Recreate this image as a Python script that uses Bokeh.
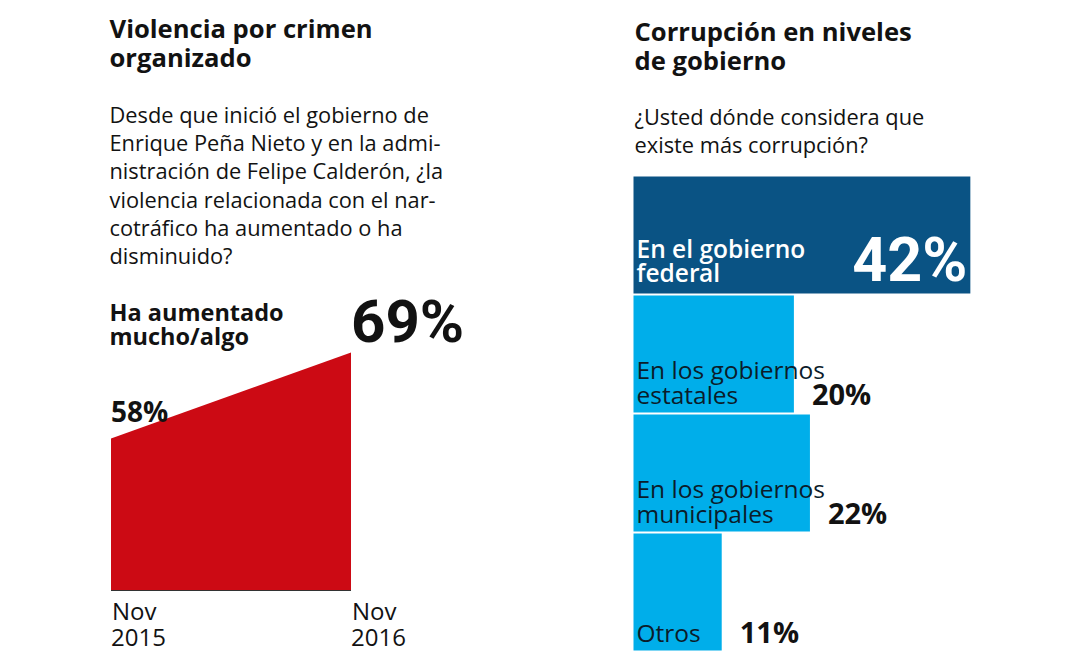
from bokeh.plotting import figure
from bokeh.models import Range1d, Label, ColumnDataSource
from bokeh.layouts import row
from bokeh.embed import file_html
from bokeh.resources import INLINE
from bokeh.core.properties import value

# ---------------- data ----------------
periods = [0, 1]
period_month = ["Nov", "Nov"]
period_year = ["2015", "2016"]
violence_pct = [58, 69]
violence_labels = ["58%", "69%"]
violence_axis_min = 38.56

corr_categories = ["En el gobierno\nfederal", "En los gobiernos\nestatales",
                   "En los gobiernos\nmunicipales", "Otros"]
corr_pct = [42, 20, 22, 11]
corr_labels = ["42%", "20%", "22%", "11%"]

# ---------------- style ----------------
FONT = "Open Sans"
SEMI = "Open Sans SemiBold, Open Sans"
BIG = "Roboto"
TXT = "#121212"
RED = "#cc0a14"
DARK_BLUE = "#0a5384"
LIGHT_BLUE = "#00aeea"
H = 662
W1, W2 = 540, 520
OX, OY = 1, 1          # page position of the layout
BL = 0.37              # baseline correction (em)


def base_fig(w, xr, yr):
    p = figure(width=w, height=H, x_range=xr, y_range=yr,
               output_backend="svg", toolbar_location=None,
               x_axis_location=None, y_axis_location=None,
               min_border=0, min_border_left=0, min_border_right=0,
               min_border_top=0, min_border_bottom=0)
    p.grid.visible = False
    p.outline_line_color = None
    p.background_fill_color = "white"
    p.border_fill_color = "white"
    return p


def lab(p, x, y, text, size, bold=False, color=TXT, font=FONT):
    p.add_layout(Label(x=x, y=y + BL * size, x_units="screen", y_units="screen",
                       text=text, text_font=font, text_font_size=f"{size}px",
                       text_font_style="bold" if bold else "normal",
                       text_color=color, text_baseline="alphabetic",
                       text_align="left"))


def sy(page_y):
    return (H + OY) - page_y


# ---------------- left panel ----------------
px_per_unit = 240.0
px_per_pct = 86.0 / 11.0
x0_px = 111.5 - OX
bottom_val = 58 - (H - (439 - OY)) / px_per_pct
p1 = base_fig(W1,
              Range1d(-x0_px / px_per_unit, (W1 - x0_px) / px_per_unit),
              Range1d(bottom_val, bottom_val + H / px_per_pct))

src1 = ColumnDataSource(dict(x=periods, y=violence_pct, lab=violence_labels,
                             base=[violence_axis_min] * len(periods),
                             month=period_month, year=period_year))
p1.varea(x="x", y1="base", y2="y", source=src1, fill_color=RED)
p1.line(x="x", y="base", source=src1, line_color="#333333", line_width=1.2)

# value labels
p1.text(x=[periods[0]], y=[violence_pct[0]], text=[violence_labels[0]],
        text_font=value(FONT), text_font_size="28px", text_font_style="bold",
        text_color=TXT, text_baseline="alphabetic", x_offset=0,
        y_offset=-17 - BL * 28)
p1.text(x=[periods[1]], y=[violence_pct[1]], text=[violence_labels[1]],
        text_font=value(BIG), text_font_size="60px", text_font_style="bold",
        text_color=TXT, text_baseline="alphabetic", x_offset=0,
        y_offset=-9 - BL * 60)

# period labels
p1.text(x="x", y="base", text="month", source=src1, text_font=value(FONT),
        text_font_size="24px", text_color=TXT, text_baseline="alphabetic",
        x_offset=1, y_offset=29 - BL * 24)
p1.text(x="x", y="base", text="year", source=src1, text_font=value(FONT),
        text_font_size="24px", text_color=TXT, text_baseline="alphabetic",
        x_offset=0, y_offset=56 - BL * 24)

lab(p1, 110 - OX, sy(38.5), "Violencia por crimen", 25.6, bold=True)
lab(p1, 110 - OX, sy(67), "organizado", 25.6, bold=True)
desc = ["Desde que inició el gobierno de",
        "Enrique Peña Nieto y en la admi-",
        "nistración de Felipe Calderón, ¿la",
        "violencia relacionada con el nar-",
        "cotráfico ha aumentado o ha",
        "disminuido?"]
for i, t in enumerate(desc):
    lab(p1, 110 - OX, sy(123 + 28.2 * i), t, 21.8)
lab(p1, 110 - OX, sy(321.5), "Ha aumentado", 23.5, bold=True)
lab(p1, 110 - OX, sy(345), "mucho/algo", 23.5, bold=True)

# ---------------- right panel ----------------
pitch = 119.0
bar_h = 117.0 / pitch
top_val = -(235.5 - OY) / pitch
bar_px_per_pct = 8.02
x0r = 634 - (OX + W1)
p2 = base_fig(W2,
              Range1d(-x0r / bar_px_per_pct, (W2 - x0r) / bar_px_per_pct),
              Range1d(top_val + H / pitch, top_val))

ypos = list(range(len(corr_categories)))
colors = [DARK_BLUE] + [LIGHT_BLUE] * (len(corr_categories) - 1)
l1 = [c.split("\n")[0] if "\n" in c else "" for c in corr_categories]
l2 = [c.split("\n")[-1] for c in corr_categories]
yb = [y + bar_h / 2 for y in ypos]
p2.hbar(y=ypos, left=0, right=corr_pct, height=bar_h,
        fill_color=colors, line_color=None)

CS = 24.5
# first category (white, semibold, on dark bar)
p2.text(x=[0], y=[yb[0]], text=[l2[0]], text_font=value(SEMI),
        text_font_size=f"{CS}px", text_color="white", text_baseline="alphabetic",
        x_offset=3, y_offset=-12 - BL * CS)
p2.text(x=[0], y=[yb[0]], text=[l1[0]], text_font=value(SEMI),
        text_font_size=f"{CS}px", text_color="white", text_baseline="alphabetic",
        x_offset=3, y_offset=-36 - BL * CS)
# other categories
n = len(ypos) - 1
p2.text(x=[0] * n, y=yb[1:], text=l2[1:], text_font=value(FONT),
        text_font_size=f"{CS}px", text_color="#0b1c2a", text_baseline="alphabetic",
        x_offset=3, y_offset=-9 - BL * CS)
p2.text(x=[0] * n, y=yb[1:], text=l1[1:], text_font=value(FONT),
        text_font_size=f"{CS}px", text_color="#0b1c2a", text_baseline="alphabetic",
        x_offset=3, y_offset=-34 - BL * CS)

# first (big, inside) value
p2.text(x=[corr_pct[0]], y=[yb[0]], text=[corr_labels[0]],
        text_font=value(BIG), text_font_size="61px", text_font_style="bold",
        text_color="white", text_baseline="alphabetic", text_align="right",
        x_offset=-3, y_offset=-11 - BL * 61)
# others outside
p2.text(x=corr_pct[1:], y=yb[1:], text=corr_labels[1:],
        text_font=value(FONT), text_font_size="29px", text_font_style="bold",
        text_color=TXT, text_baseline="alphabetic", text_align="left",
        x_offset=18, y_offset=-8 - BL * 29)


def lx(page_x):
    return page_x - OX - W1


lab(p2, lx(635), sy(41), "Corrupción en niveles", 25.6, bold=True)
lab(p2, lx(635), sy(70), "de gobierno", 25.6, bold=True)
lab(p2, lx(635), sy(125), "¿Usted dónde considera que", 21.8)
lab(p2, lx(635), sy(153), "existe más corrupción?", 21.8)

layout = row(p1, p2)
open("out.html", "w").write(file_html(layout, INLINE))
